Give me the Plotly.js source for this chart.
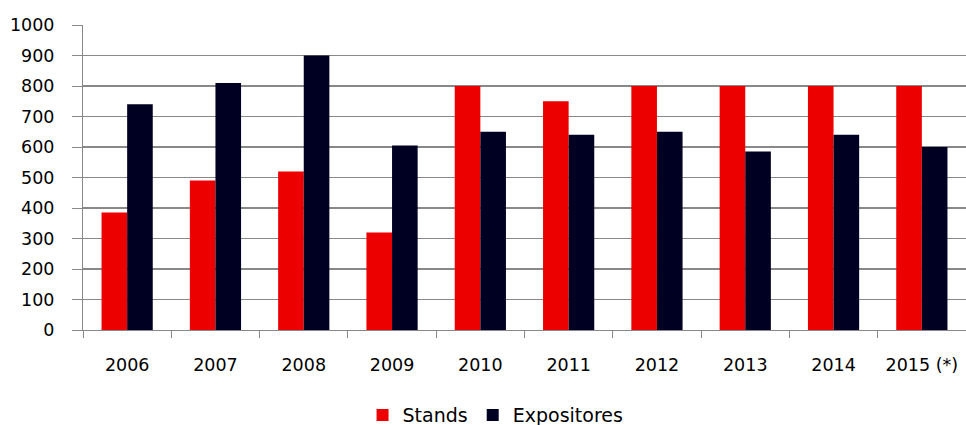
<!DOCTYPE html>
<html>
<head>
<meta charset="utf-8">
<script src="https://cdn.plot.ly/plotly-3.0.1.min.js"></script>
<style>html,body{margin:0;padding:0;background:#fff;}#chart{width:966px;height:425px;}</style>
</head>
<body>
<div id="chart"></div>
<script>
const years = ["2006","2007","2008","2009","2010","2011","2012","2013","2014","2015 (*)"];
const stands = [385, 490, 520, 320, 800, 750, 800, 800, 800, 800];
const expositores = [740, 810, 900, 605, 650, 640, 650, 585, 640, 600];
const yTicks = [0,100,200,300,400,500,600,700,800,900,1000];

const font = "'DejaVu Sans', Lato, sans-serif";
const data = [
  {type:"bar", name:"Stands", x:years, y:stands, marker:{color:"#EC0000"}},
  {type:"bar", name:"Expositores", x:years, y:expositores, marker:{color:"#000022"}}
];
const layout = {
  width:966, height:425,
  margin:{l:83, r:0, t:25, b:95},
  paper_bgcolor:"#fff", plot_bgcolor:"#fff",
  barmode:"group", bargap:0.42, bargroupgap:0,
  font:{family:font, color:"#000", size:17},
  showlegend:true,
  legend:{orientation:"h", x:0.513, xanchor:"center", xref:"container",
          y:0.023, yanchor:"middle", yref:"container",
          font:{size:19, family:font}, itemwidth:30, traceorder:"normal"},
  xaxis:{type:"category", showgrid:false, showline:true, linecolor:"#888", linewidth:1,
         ticks:"outside", tickson:"boundaries", ticklen:7, tickcolor:"#888",
         tickfont:{size:17.5, family:font}, ticklabelstandoff:19, automargin:false, fixedrange:true},
  yaxis:{range:[0,1000], tickvals:yTicks, showgrid:true, gridcolor:"#888", gridwidth:1.2,
         showline:true, linecolor:"#888", linewidth:1, ticks:"outside", ticklen:10, tickcolor:"#888",
         zeroline:false, tickfont:{size:17.5, family:font}, ticklabelstandoff:14, automargin:false, fixedrange:true}
};
Plotly.newPlot("chart", data, layout, {displayModeBar:false, staticPlot:true});
</script>
</body>
</html>
